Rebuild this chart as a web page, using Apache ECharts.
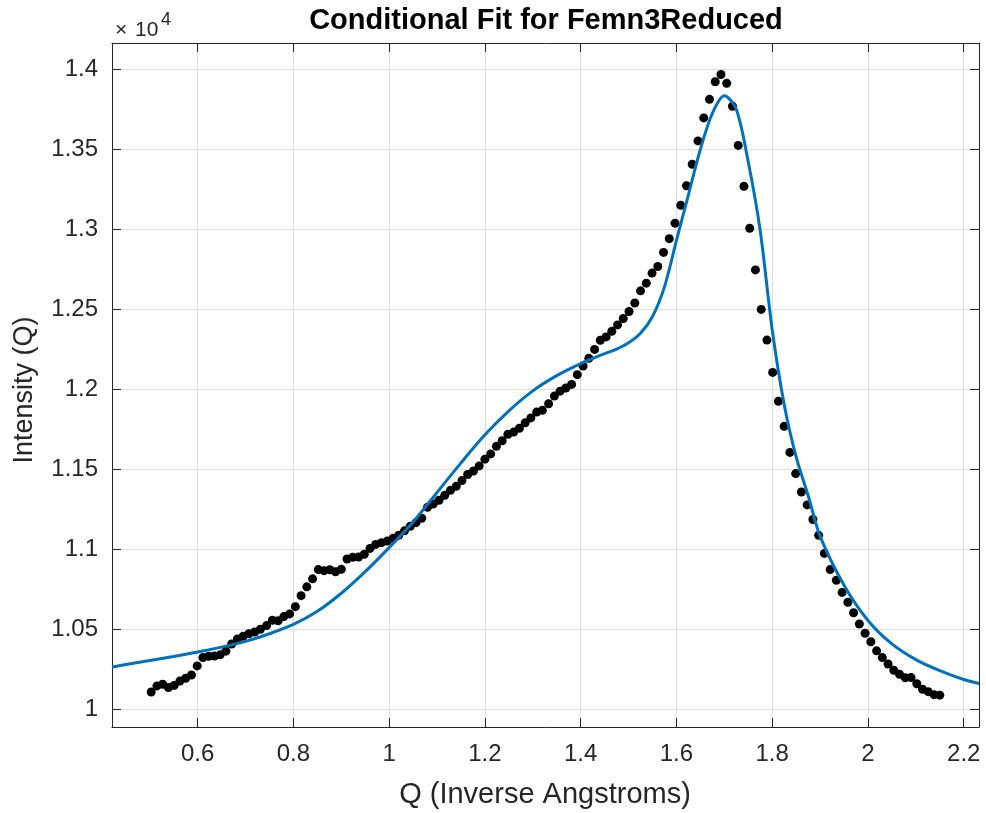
<!DOCTYPE html>
<html>
<head>
<meta charset="utf-8">
<script src="https://cdn.jsdelivr.net/npm/echarts@6/dist/echarts.min.js"></script>
<style>
html,body{margin:0;padding:0;background:#fff;}
#chart{width:986px;height:813px;}
</style>
</head>
<body>
<div id="chart"></div>
<script>
// Measured data points (Q in inverse Angstroms, intensity in counts)
const dataQ = [0.503,0.515,0.527,0.539,0.551,0.563,0.575,0.587,0.599,0.611,
0.623,0.635,0.647,0.659,0.671,0.683,0.695,0.707,0.719,0.731,
0.744,0.756,0.768,0.780,0.792,0.804,0.816,0.828,0.840,0.852,
0.864,0.876,0.888,0.900,0.912,0.924,0.936,0.948,0.960,0.972,
0.984,0.996,1.008,1.020,1.032,1.044,1.056,1.068,1.080,1.092,
1.104,1.116,1.128,1.140,1.152,1.164,1.176,1.188,1.200,1.212,
1.224,1.236,1.248,1.260,1.272,1.284,1.296,1.308,1.320,1.333,
1.345,1.357,1.369,1.381,1.393,1.405,1.417,1.429,1.441,1.453,
1.465,1.477,1.489,1.501,1.513,1.525,1.537,1.549,1.561,1.573,
1.585,1.597,1.609,1.621,1.633,1.645,1.657,1.669,1.681,1.693,
1.705,1.717,1.729,1.741,1.753,1.765,1.777,1.789,1.801,1.813,
1.825,1.837,1.849,1.861,1.873,1.885,1.897,1.909,1.921,1.934,
1.946,1.958,1.970,1.982,1.994,2.006,2.018,2.030,2.042,2.054,
2.066,2.078,2.090,2.102,2.114,2.126,2.138,2.150];
const dataI = [10108,10146,10156,10136,10149,10176,10194,10214,10271,10323,
10331,10333,10340,10363,10408,10439,10456,10472,10483,10500,
10523,10556,10553,10579,10596,10641,10710,10765,10815,10873,
10866,10872,10859,10875,10939,10950,10951,10969,11005,11030,
11041,11051,11068,11088,11115,11144,11166,11194,11262,11282,
11306,11337,11368,11393,11429,11467,11489,11521,11563,11596,
11643,11678,11719,11732,11756,11790,11821,11857,11868,11909,
11957,11988,12008,12030,12091,12145,12193,12249,12306,12327,
12362,12402,12442,12486,12539,12615,12663,12726,12767,12855,
12941,13038,13150,13272,13406,13552,13696,13812,13922,13967,
13912,13769,13524,13268,13006,12746,12499,12307,12105,11925,
11768,11605,11473,11358,11277,11186,11087,10974,10873,10806,
10730,10669,10603,10533,10475,10422,10365,10323,10283,10244,
10218,10197,10198,10159,10125,10110,10091,10088];

// Conditional fit curve samples
const fitQ = [0.4211,0.45,0.50,0.55,0.60,0.65,0.70,0.75,0.80,0.85,
0.90,0.95,1.00,1.05,1.10,1.15,1.20,1.25,1.30,1.35,
1.40,1.45,1.475,1.50,1.525,1.55,1.575,1.60,1.625,1.65,
1.675,1.70,1.725,1.75,1.775,1.80,1.825,1.85,1.875,1.90,
1.95,2.00,2.05,2.10,2.15,2.20,2.2319];
const fitI = [10264,10280,10304,10330,10358,10388,10424,10472,10530,10612,
10725,10860,11010,11170,11355,11540,11715,11865,11990,12085,
12160,12222,12250,12290,12350,12455,12640,12930,13215,13500,
13725,13835,13750,13420,12990,12372,11905,11577,11336,11082,
10775,10555,10408,10310,10241,10186,10161];

const xTicks = [0.6,0.8,1.0,1.2,1.4,1.6,1.8,2.0,2.2];
const yTicks = [10000,10500,11000,11500,12000,12500,13000,13500,14000];
const xRange = [0.4211, 2.2319];
const yRange = [9889, 14164];

const titleText = 'Conditional Fit for Femn3Reduced';
const xName = 'Q (Inverse Angstroms)';
const yName = 'Intensity (Q)';

const FONT = "Liberation Sans, Arial, Helvetica, sans-serif";
const AX = '#262626';

const chart = echarts.init(document.getElementById('chart'), null, {renderer:'canvas'});

const gridL = 112, gridT = 43, gridR = 7, gridB = 86;

function xAxisDef(pos, show) {
  return {
    type:'value', position:pos, min:xRange[0], max:xRange[1],
    axisLine:{show:true, onZero:false, lineStyle:{color:AX, width:1}},
    axisTick:{show:true, inside:true, length:9, lineStyle:{color:AX, width:1}, customValues:xTicks},
    axisLabel:{show:show, customValues:xTicks, color:AX, fontSize:24, fontFamily:FONT, margin:15,
      formatter:v => String(+v.toFixed(2))},
    splitLine:{show:show, lineStyle:{color:'#dedede', width:1}}
  };
}
function yAxisDef(pos, show) {
  return {
    type:'value', position:pos, min:yRange[0], max:yRange[1],
    axisLine:{show:true, onZero:false, lineStyle:{color:AX, width:1}},
    axisTick:{show:true, inside:true, length:9, lineStyle:{color:AX, width:1}, customValues:yTicks},
    axisLabel:{show:show, customValues:yTicks, color:AX, fontSize:24, fontFamily:FONT, margin:14,
      formatter:v => String(+(v/10000).toFixed(2))},
    splitLine:{show:show, lineStyle:{color:'#dedede', width:1}}
  };
}

const scatterData = dataQ.map((q,i) => [q, dataI[i]]);
const fitData = fitQ.map((q,i) => [q, fitI[i]]);

chart.setOption({
  animation:false,
  backgroundColor:'#ffffff',
  grid:{left:gridL, top:gridT, right:gridR, bottom:gridB, containLabel:false},
  xAxis:[xAxisDef('bottom', true), xAxisDef('top', false)],
  yAxis:[yAxisDef('left', true), yAxisDef('right', false)],
  series:[
    {type:'scatter', xAxisIndex:0, yAxisIndex:0, data:scatterData, symbol:'circle', symbolSize:9,
      itemStyle:{color:'#000000', opacity:1}, z:2},
    {type:'line', xAxisIndex:0, yAxisIndex:0, data:fitData, showSymbol:false, smooth:0.3,
      lineStyle:{color:'#0072BD', width:3}, z:3}
  ],
  graphic:[
    {type:'text', x:546, y:21, style:{text:titleText, fontSize:29, fontWeight:'bold', fontFamily:FONT, fill:'#000', textAlign:'center', textVerticalAlign:'middle'}},
    {type:'text', x:545, y:795, style:{text:xName, fontSize:29, fontFamily:FONT, fill:AX, textAlign:'center', textVerticalAlign:'middle'}},
    {type:'text', x:25, y:390, rotation:Math.PI/2, style:{text:yName, fontSize:27, fontFamily:FONT, fill:AX, textAlign:'center', textVerticalAlign:'middle'}},
    {type:'text', x:115, y:30, style:{text:'\u00d7', fontSize:21, fontFamily:FONT, fill:AX, textAlign:'left', textVerticalAlign:'middle'}},
    {type:'text', x:135, y:30, style:{text:'10', fontSize:21, fontFamily:FONT, fill:AX, textAlign:'left', textVerticalAlign:'middle'}},
    {type:'text', x:161, y:20, style:{text:'4', fontSize:18, fontFamily:FONT, fill:AX, textAlign:'left', textVerticalAlign:'middle'}}
  ]
});
</script>
</body>
</html>
